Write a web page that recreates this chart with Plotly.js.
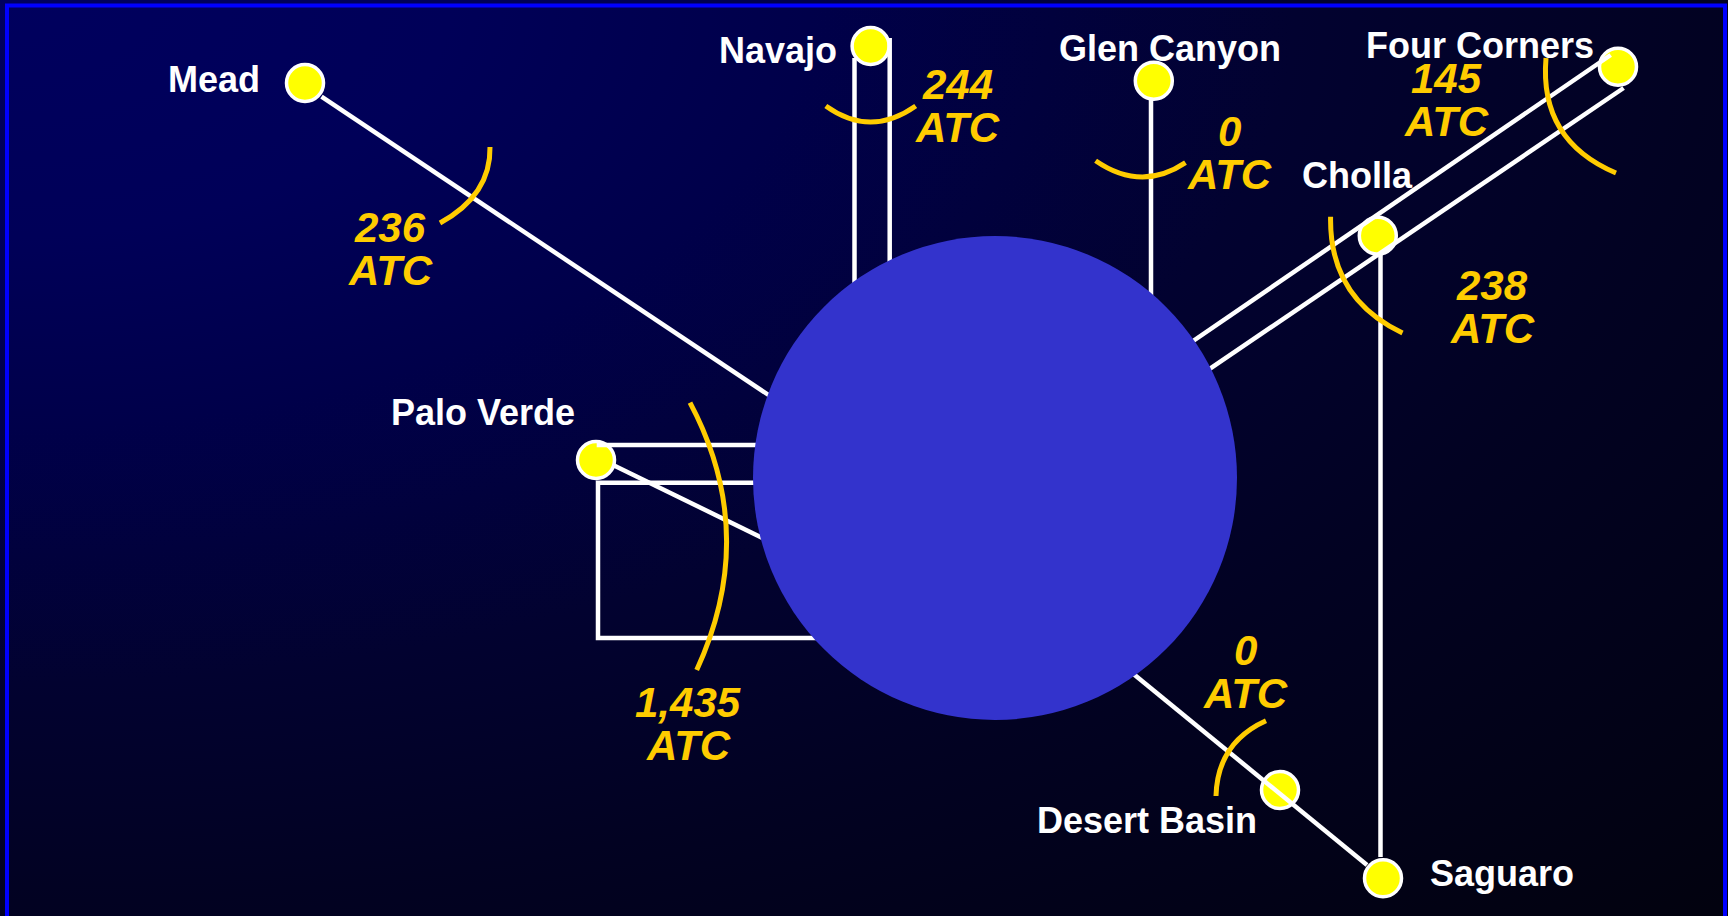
<!DOCTYPE html>
<html>
<head>
<meta charset="utf-8">
<script src="https://cdn.plot.ly/plotly-3.0.1.min.js"></script>
<style>
  html, body { margin: 0; padding: 0; background: #000; overflow: hidden; }
  #chart {
    width: 1728px; height: 916px;
    background: radial-gradient(ellipse 1800px 950px at 0px 0px,
      #00005e 0%, #000058 25%, #00004a 45%, #020230 72%, #020222 95%, #02020f 135%);
  }
</style>
</head>
<body>
<div id="chart"></div>
<script>
// ---- Data: stations (nodes) ----
const nodeNames = ['Mead', 'Navajo', 'Glen Canyon', 'Four Corners', 'Cholla', 'Palo Verde', 'Desert Basin', 'Saguaro'];
const nodeX = [305, 870.6, 1153.8, 1618, 1377.8, 596, 1280, 1383];
const nodeY = [83, 46, 80.7, 66.7, 235.7, 460, 790, 878.3];

// ---- Data: hub ----
const hubX = 995, hubY = 478, hubR = 242;

// ---- Data: transmission line segments (start / end) ----
const linkX0 = [321.5, 854.5, 889.7, 1151, 1610.7, 1623.6, 1380.5, 1080, 596.7, 613];
const linkY0 = [96.7, 58, 38, 100, 55, 88, 255, 630.3, 445, 465];
const linkX1 = [800, 854.5, 889.7, 1151, 1150, 1170, 1380.5, 1367, 800, 820];
const linkY1 = [416, 320, 320, 320, 370.5, 395.8, 857, 865, 445, 566];
// Palo Verde loop polyline
const loopX = [800, 598, 598, 850];
const loopY = [482.7, 482.7, 638, 638];

// ---- Data: ATC cut-plane values ----
const atcValues = ['236', '244', '0', '145', '238', '1,435', '0'];
const atcUnit = 'ATC';
// cut arcs: start, mid, end
const arcX0 = [490, 825.8, 1095.6, 1546, 1330.6, 690, 1266];
const arcY0 = [147, 106, 160.7, 58, 216.7, 402.7, 720.7];
const arcXm = [478, 870.6, 1141, 1560, 1347.8, 726.5, 1229.2];
const arcYm = [190, 122, 177, 128, 286.5, 535, 750.5];
const arcX1 = [440, 915.7, 1185.5, 1616, 1402.5, 696.7, 1216];
const arcY1 = [223, 106, 162.7, 173, 333, 670, 796];

// ---- Layout positions for text ----
const labelX = [214, 778, 1170, 1480, 1357, 483, 1147, 1502];
const labelY = [79, 50, 48, 45, 175, 412, 820, 873];
const atcLabelX = [390, 957, 1229, 1446, 1492, 688, 1245];
const atcLabelY = [249, 106, 153, 100, 306.5, 724, 671.5];

const FONT = 'Liberation Sans, Arial, Helvetica, sans-serif';
const WHITE = '#ffffff', GOLD = '#ffcc00', HUB = '#3333cc', NODE = '#ffff00';

// build link trace
const lx = [], ly = [];
for (let i = 0; i < linkX0.length; i++) {
  lx.push(linkX0[i], linkX1[i], null);
  ly.push(linkY0[i], linkY1[i], null);
}
for (let i = 0; i < loopX.length; i++) { lx.push(loopX[i]); ly.push(loopY[i]); }

const traces = [
  {
    type: 'scatter', mode: 'markers', x: nodeX, y: nodeY, text: nodeNames,
    hoverinfo: 'text',
    marker: { size: 37, color: NODE, line: { color: WHITE, width: 3.5 } }
  },
  {
    type: 'scatter', mode: 'lines', x: lx, y: ly, hoverinfo: 'skip',
    line: { color: WHITE, width: 4.5 }, connectgaps: false
  }
];

const shapes = [];
// hub circle (covers line ends)
shapes.push({
  type: 'circle', xref: 'x', yref: 'y', layer: 'above',
  x0: hubX - hubR, x1: hubX + hubR, y0: hubY - hubR, y1: hubY + hubR,
  fillcolor: HUB, line: { width: 0 }
});
// cut arcs as quadratic curves through start/mid/end
for (let i = 0; i < arcX0.length; i++) {
  const cx = 2 * arcXm[i] - (arcX0[i] + arcX1[i]) / 2;
  const cy = 2 * arcYm[i] - (arcY0[i] + arcY1[i]) / 2;
  shapes.push({
    type: 'path', xref: 'x', yref: 'y', layer: 'above',
    path: `M ${arcX0[i]} ${arcY0[i]} Q ${cx} ${cy} ${arcX1[i]} ${arcY1[i]}`,
    line: { color: GOLD, width: 5 }
  });
}
// frame
shapes.push({
  type: 'rect', xref: 'x', yref: 'y', layer: 'above',
  x0: 7, x1: 1725, y0: 5.5, y1: 960,
  line: { color: '#0000ff', width: 4 }, fillcolor: 'rgba(0,0,0,0)'
});

const annotations = [];
for (let i = 0; i < nodeNames.length; i++) {
  annotations.push({
    x: labelX[i], y: labelY[i], xref: 'x', yref: 'y', showarrow: false,
    xanchor: 'center', yanchor: 'middle',
    text: '<b>' + nodeNames[i] + '</b>',
    font: { family: FONT, size: 36, color: WHITE }
  });
}
for (let i = 0; i < atcValues.length; i++) {
  annotations.push({
    x: atcLabelX[i], y: atcLabelY[i] - 21.5, xref: 'x', yref: 'y', showarrow: false,
    xanchor: 'center', yanchor: 'middle',
    text: '<b><i>' + atcValues[i] + '</i></b>',
    font: { family: FONT, size: 42, color: GOLD }
  });
  annotations.push({
    x: atcLabelX[i], y: atcLabelY[i] + 21.5, xref: 'x', yref: 'y', showarrow: false,
    xanchor: 'center', yanchor: 'middle',
    text: '<b><i>' + atcUnit + '</i></b>',
    font: { family: FONT, size: 42, color: GOLD }
  });
}

const layout = {
  width: 1728, height: 916,
  margin: { l: 0, r: 0, t: 0, b: 0, pad: 0 },
  paper_bgcolor: 'rgba(0,0,0,0)', plot_bgcolor: 'rgba(0,0,0,0)',
  showlegend: false,
  xaxis: { range: [0, 1728], visible: false, fixedrange: true },
  yaxis: { range: [916, 0], visible: false, fixedrange: true },
  shapes: shapes,
  annotations: annotations
};

Plotly.newPlot('chart', traces, layout, { displayModeBar: false, staticPlot: true });
</script>
</body>
</html>
